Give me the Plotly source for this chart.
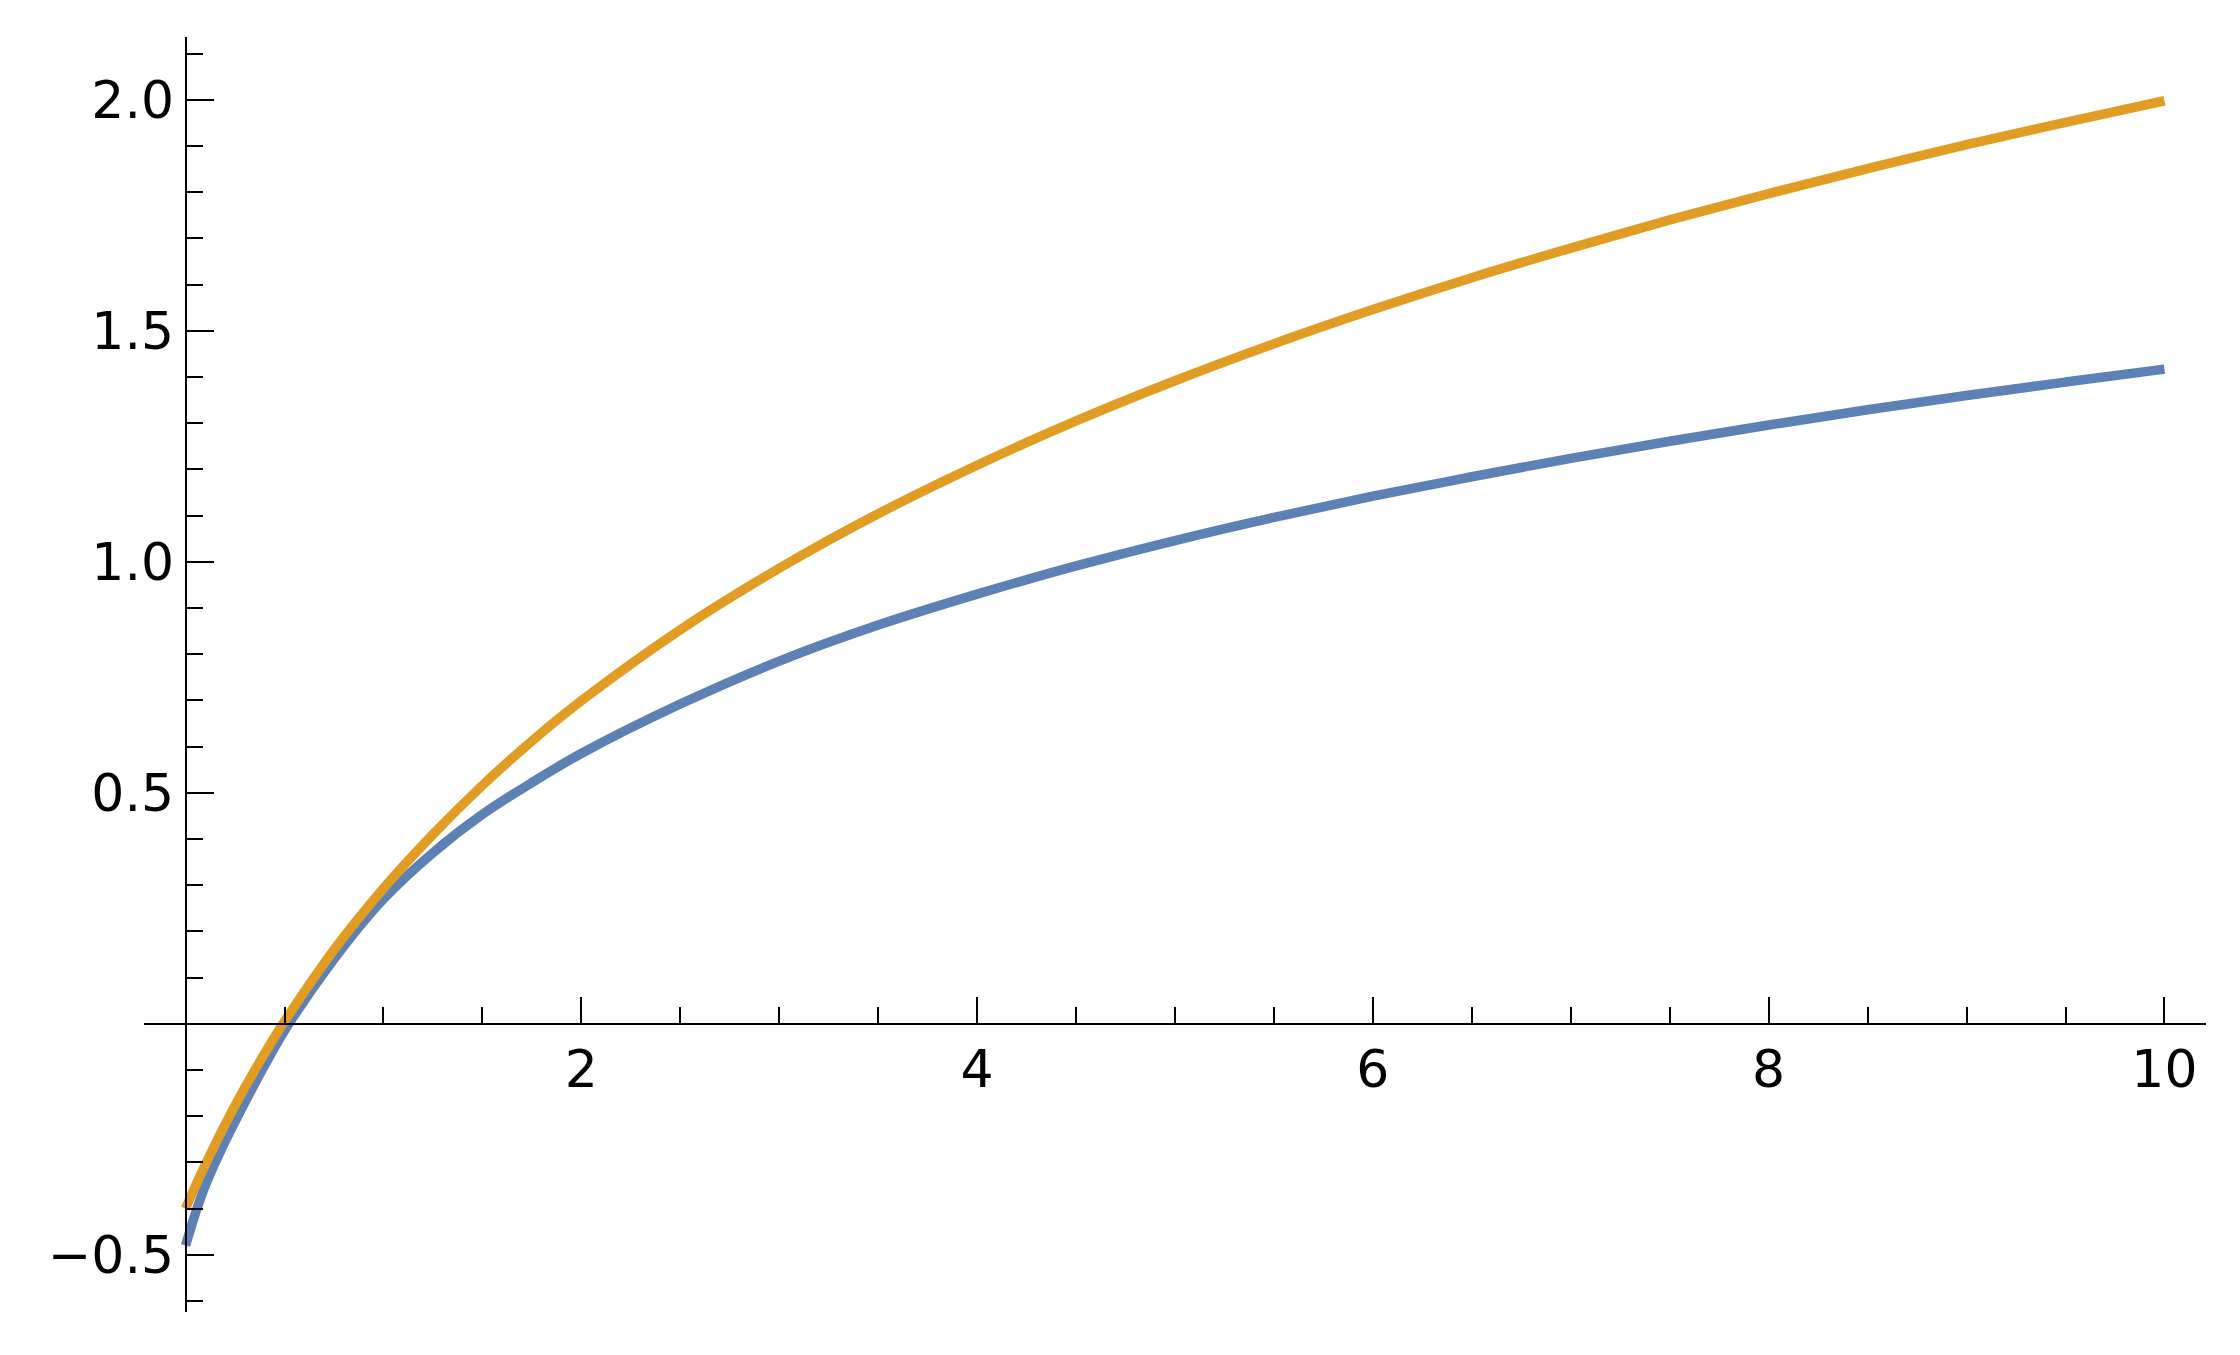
import plotly.graph_objects as go

# ---- data ----
x_vals = [0, 0.05, 0.1, 0.2, 0.3, 0.4, 0.5, 0.75, 1, 1.25, 1.5, 1.75, 2, 2.5, 3, 3.5,
          4, 4.5, 5, 5.5, 6, 6.5, 7, 7.5, 8, 8.5, 9, 9.5, 10]
blue_vals = [-0.48, -0.41, -0.35, -0.255, -0.17, -0.09, -0.015, 0.14, 0.27, 0.37,
             0.453, 0.522, 0.585, 0.692, 0.785, 0.863, 0.93, 0.991, 1.046, 1.096, 1.142,
             1.184, 1.224, 1.261, 1.296, 1.329, 1.36, 1.389, 1.417]
orange_vals = [-0.40, -0.351, -0.305, -0.218, -0.138, -0.064, 0.005, 0.16, 0.293, 0.41,
               0.516, 0.612, 0.699, 0.853, 0.986, 1.104, 1.209, 1.305, 1.392, 1.472,
               1.546, 1.615, 1.679, 1.740, 1.797, 1.851, 1.903, 1.951, 1.998]

x_major = [2, 4, 6, 8, 10]
x_major_text = ["2", "4", "6", "8", "10"]
x_minor = [0.5, 1, 1.5, 2.5, 3, 3.5, 4.5, 5, 5.5, 6.5, 7, 7.5, 8.5, 9, 9.5]
y_major = [-0.5, 0.5, 1.0, 1.5, 2.0]
y_major_text = ["\u22120.5", "0.5", "1.0", "1.5", "2.0"]
y_minor = [-0.6, -0.4, -0.3, -0.2, -0.1, 0.1, 0.2, 0.3, 0.4, 0.6, 0.7, 0.8, 0.9,
           1.1, 1.2, 1.3, 1.4, 1.6, 1.7, 1.8, 1.9, 2.1]

x_range = [-0.21, 10.21]
y_range = [-0.624, 2.136]

BLUE = "#5E81B5"
ORANGE = "#E19C24"
AXIS = "#000000"
FONT = "DejaVu Sans"

fig = go.Figure()
fig.add_trace(go.Scatter(x=x_vals, y=blue_vals, mode="lines",
                         line=dict(color=BLUE, width=9.5, shape="spline", smoothing=1),
                         showlegend=False, hoverinfo="skip"))
fig.add_trace(go.Scatter(x=x_vals, y=orange_vals, mode="lines",
                         line=dict(color=ORANGE, width=9.5, shape="spline", smoothing=1),
                         showlegend=False, hoverinfo="skip"))

x_axis_pos = (0 - y_range[0]) / (y_range[1] - y_range[0])
y_axis_pos = (0 - x_range[0]) / (x_range[1] - x_range[0])

fig.update_layout(
    width=2240, height=1355,
    margin=dict(l=144, r=34, t=37, b=43, pad=0),
    paper_bgcolor="white", plot_bgcolor="white",
    font=dict(family=FONT, size=52, color="black"),
    xaxis=dict(
        range=x_range, anchor="free", position=x_axis_pos,
        showline=True, linecolor=AXIS, linewidth=2.2,
        showgrid=False, zeroline=False,
        ticks="inside", ticklen=26, tickwidth=2.2, tickcolor=AXIS,
        tickmode="array", tickvals=x_major, ticktext=x_major_text,
        tickfont=dict(family=FONT, size=52, color="black"),
        minor=dict(tickmode="array", tickvals=x_minor, ticks="inside",
                   ticklen=16, tickwidth=2.2, tickcolor=AXIS, showgrid=False),
        fixedrange=True,
    ),
    yaxis=dict(
        range=y_range, anchor="free", position=y_axis_pos,
        showline=True, linecolor=AXIS, linewidth=2.2,
        showgrid=False, zeroline=False,
        ticks="inside", ticklen=27, tickwidth=2.2, tickcolor=AXIS,
        tickmode="array", tickvals=y_major, ticktext=y_major_text,
        tickfont=dict(family=FONT, size=52, color="black"),
        minor=dict(tickmode="array", tickvals=y_minor, ticks="inside",
                   ticklen=16, tickwidth=2.2, tickcolor=AXIS, showgrid=False),
        fixedrange=True,
    ),
)

fig.write_html("out.html",
               config={"displayModeBar": False},
               post_script="document.body.style.margin='0';document.body.style.overflow='hidden';")
